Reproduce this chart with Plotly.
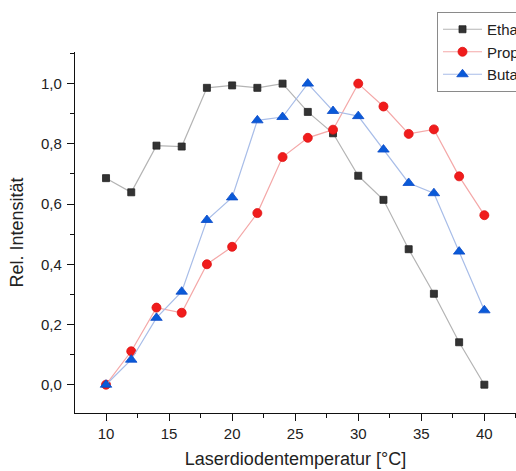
import plotly.graph_objects as go

temps = [10, 12, 14, 16, 18, 20, 22, 24, 26, 28, 30, 32, 34, 36, 38, 40]
ethan = [0.686, 0.639, 0.794, 0.791, 0.986, 0.994, 0.986, 1.0, 0.906, 0.835, 0.694, 0.614, 0.45, 0.302, 0.141, 0.0]
propan = [0.0, 0.111, 0.256, 0.239, 0.40, 0.458, 0.57, 0.756, 0.82, 0.847, 1.0, 0.924, 0.833, 0.848, 0.692, 0.563]
butan = [0.0, 0.083, 0.222, 0.309, 0.547, 0.622, 0.878, 0.889, 1.0, 0.909, 0.892, 0.781, 0.67, 0.636, 0.442, 0.247]
names = ["Ethan", "Propan", "Butan"]
x_ticks = [10, 15, 20, 25, 30, 35, 40]
y_ticks = [0.0, 0.2, 0.4, 0.6, 0.8, 1.0]

fig = go.Figure()
fig.add_trace(go.Scatter(x=temps, y=ethan, name=names[0], mode="lines+markers",
                         line=dict(color="#b4b4b4", width=1.2),
                         marker=dict(symbol="square", size=7, color="#333333",
                                     line=dict(color="#222222", width=0.8))))
fig.add_trace(go.Scatter(x=temps, y=propan, name=names[1], mode="lines+markers",
                         line=dict(color="#f4a8a8", width=1.2),
                         marker=dict(symbol="circle", size=9, color="#f01c1c",
                                     line=dict(color="#e01010", width=0.8))))
fig.add_trace(go.Scatter(x=temps, y=butan, name=names[2], mode="lines+markers",
                         line=dict(color="#a8bde8", width=1.2),
                         marker=dict(symbol="triangle-up", size=10, color="#0a5ad8",
                                     line=dict(color="#0a4ac8", width=0.8))))

font_family = "Liberation Sans, Arial, sans-serif"
plot_top, plot_bottom = 52, 413
ph = plot_bottom - plot_top
fig.update_layout(
    width=516, height=471,
    margin=dict(l=75, r=0, t=plot_top, b=471 - plot_bottom, autoexpand=False),
    paper_bgcolor="white", plot_bgcolor="white",
    separators=",.",
    font=dict(family=font_family, color="#222222"),
    showlegend=True,
    legend=dict(x=(437 - 75) / 441, y=(plot_bottom - 12) / ph, xanchor="left", yanchor="top",
                bgcolor="white", bordercolor="#8a8a8a", borderwidth=1,
                font=dict(size=15, color="#222222", family=font_family),
                itemwidth=39, tracegroupgap=0),
    xaxis=dict(range=[7.54, 42.51], tickvals=x_ticks, ticktext=[str(v) for v in x_ticks],
               showgrid=False, zeroline=False, showline=True, linecolor="#111111", linewidth=1.3,
               ticks="outside", ticklen=7, tickwidth=1.3, tickcolor="#111111",
               ticklabelstandoff=0,
               minor=dict(dtick=2.5, tick0=0, ticks="outside", ticklen=4, tickwidth=1.3, tickcolor="#111111"),
               tickfont=dict(size=15, color="#222222"),
               title=dict(text="Laserdiodentemperatur [°C]", font=dict(size=18, color="#222222"), standoff=11)),
    yaxis=dict(range=[-0.094, 1.105], tickvals=y_ticks, tickformat=".1f",
               showgrid=False, zeroline=False, showline=True, linecolor="#111111", linewidth=1.3,
               ticks="outside", ticklen=7, tickwidth=1.3, tickcolor="#111111",
               ticklabelstandoff=2,
               minor=dict(dtick=0.1, tick0=0, ticks="outside", ticklen=4, tickwidth=1.3, tickcolor="#111111"),
               tickfont=dict(size=15, color="#222222"),
               title=dict(text="Rel. Intensität", font=dict(size=18, color="#222222"), standoff=12)),
)

fig.write_html("out.html")
